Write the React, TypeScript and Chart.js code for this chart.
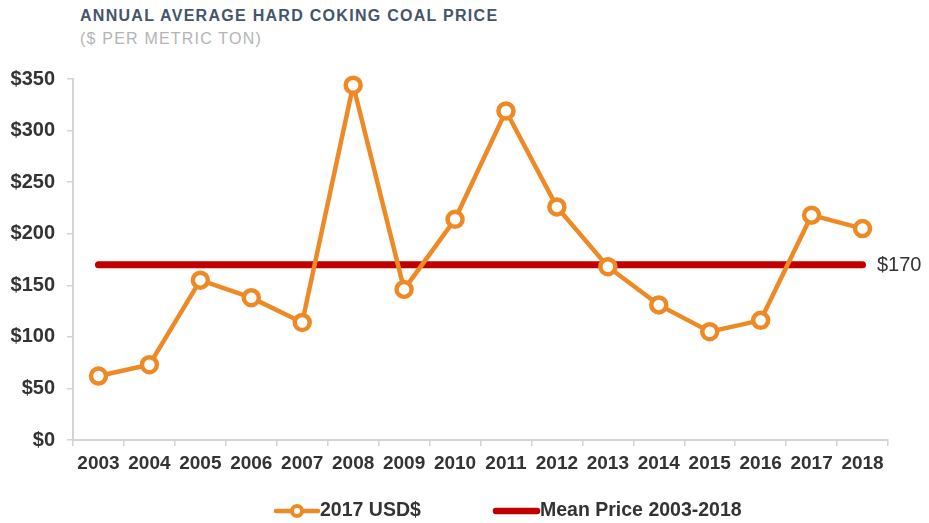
import React, { useEffect, useRef } from "react";
import { Chart, registerables } from "chart.js";

Chart.register(...registerables);

const categories = ["2003","2004","2005","2006","2007","2008","2009","2010","2011","2012","2013","2014","2015","2016","2017","2018"];
const priceValues = [62, 73, 155, 138, 114, 344, 146, 214, 319, 226, 168, 131, 105, 116, 218, 205];
const meanValues = [170, 170, 170, 170, 170, 170, 170, 170, 170, 170, 170, 170, 170, 170, 170, 170];
const meanLabel = "$170";
const yTicks = [0, 50, 100, 150, 200, 250, 300, 350];

const ORANGE = "#ee8a25";
const RED = "#c00000";
const TEXT = "#333333";
const FONT = "'Liberation Sans', Arial, sans-serif";

const extras = {
  id: "extras",
  afterDraw(chart: any) {
    const ctx = chart.ctx;
    const y = chart.scales.y;
    const area = chart.chartArea;
    ctx.save();
    // mean label
    ctx.fillStyle = TEXT;
    ctx.font = "20px " + FONT;
    ctx.textAlign = "left";
    ctx.textBaseline = "middle";
    ctx.fillText(meanLabel, area.right - 11, y.getPixelForValue(meanValues[meanValues.length - 1]) + 1);
    // legend
    const ly = 511;
    ctx.font = "bold 19.5px " + FONT;
    ctx.lineCap = "round";
    // series 1
    ctx.strokeStyle = ORANGE;
    ctx.lineWidth = 4.5;
    ctx.beginPath();
    ctx.moveTo(276, ly);
    ctx.lineTo(318, ly);
    ctx.stroke();
    ctx.beginPath();
    ctx.arc(297, ly, 5, 0, Math.PI * 2);
    ctx.fillStyle = "#ffffff";
    ctx.fill();
    ctx.lineWidth = 4;
    ctx.stroke();
    ctx.fillStyle = TEXT;
    ctx.fillText(chart.data.datasets[0].label, 320, ly);
    // series 2
    ctx.strokeStyle = RED;
    ctx.lineWidth = 6.5;
    ctx.beginPath();
    ctx.moveTo(496, ly);
    ctx.lineTo(537, ly);
    ctx.stroke();
    ctx.fillStyle = TEXT;
    ctx.fillText(chart.data.datasets[1].label, 540, ly);
    ctx.restore();
  },
};

export default function App() {
  const ref = useRef<HTMLCanvasElement | null>(null);
  useEffect(() => {
    if (!ref.current) return;
    const chart = new Chart(ref.current, {
      type: "line",
      data: {
        labels: categories,
        datasets: [
          {
            label: "2017 USD$",
            data: priceValues,
            borderColor: ORANGE,
            backgroundColor: "#ffffff",
            borderWidth: 4.5,
            pointRadius: 7.5,
            pointBorderWidth: 4.5,
            pointBackgroundColor: "#ffffff",
            pointBorderColor: ORANGE,
            tension: 0,
            clip: false,
            order: 1,
          } as any,
          {
            label: "Mean Price 2003-2018",
            data: meanValues,
            borderColor: RED,
            borderWidth: 7,
            pointRadius: 0,
            borderCapStyle: "round",
            clip: false,
            order: 2,
          } as any,
        ],
      },
      options: {
        animation: false,
        responsive: false,
        layout: { padding: { top: 79, right: 41, bottom: 50, left: 0 } },
        plugins: { legend: { display: false }, tooltip: { enabled: false } },
        scales: {
          x: {
            type: "category",
            offset: true,
            grid: { offset: true, drawOnChartArea: false, color: "#d4d4d4", tickLength: 6, lineWidth: 1.5 },
            border: { color: "#d4d4d4", width: 2 },
            ticks: { color: TEXT, font: { family: FONT, size: 19, weight: "bold" }, padding: 6, maxRotation: 0, autoSkip: false },
            afterFit: (s: any) => { s.height = 33; },
          },
          y: {
            min: 0,
            max: 350,
            afterBuildTicks: (s: any) => { s.ticks = yTicks.map((v) => ({ value: v })); },
            grid: { drawOnChartArea: false, color: "#d4d4d4", tickLength: 6, lineWidth: 1.5 },
            border: { color: "#d4d4d4", width: 2 },
            ticks: {
              color: TEXT,
              font: { family: FONT, size: 20, weight: "bold" },
              padding: 12,
              callback: (v: any) => "$" + v,
            },
            afterFit: (s: any) => { s.width = 73; },
          },
        },
      },
      plugins: [extras],
    });
    return () => chart.destroy();
  }, []);
  return (
    <div style={{ position: "absolute", left: 0, top: 0, width: 929, height: 523, background: "#fff", fontFamily: FONT }}>
      <div style={{ position: "absolute", left: 80, top: 7, fontSize: 16, fontWeight: 700, letterSpacing: 1.28, color: "#44546a", whiteSpace: "nowrap" }}>
        ANNUAL AVERAGE HARD COKING COAL PRICE
      </div>
      <div style={{ position: "absolute", left: 80, top: 30, fontSize: 16, letterSpacing: 1.2, color: "#b4b4b4", whiteSpace: "nowrap" }}>
        ($ PER METRIC TON)
      </div>
      <canvas ref={ref} width={929} height={523} style={{ position: "absolute", left: 0, top: 0, width: 929, height: 523 }} />
    </div>
  );
}
